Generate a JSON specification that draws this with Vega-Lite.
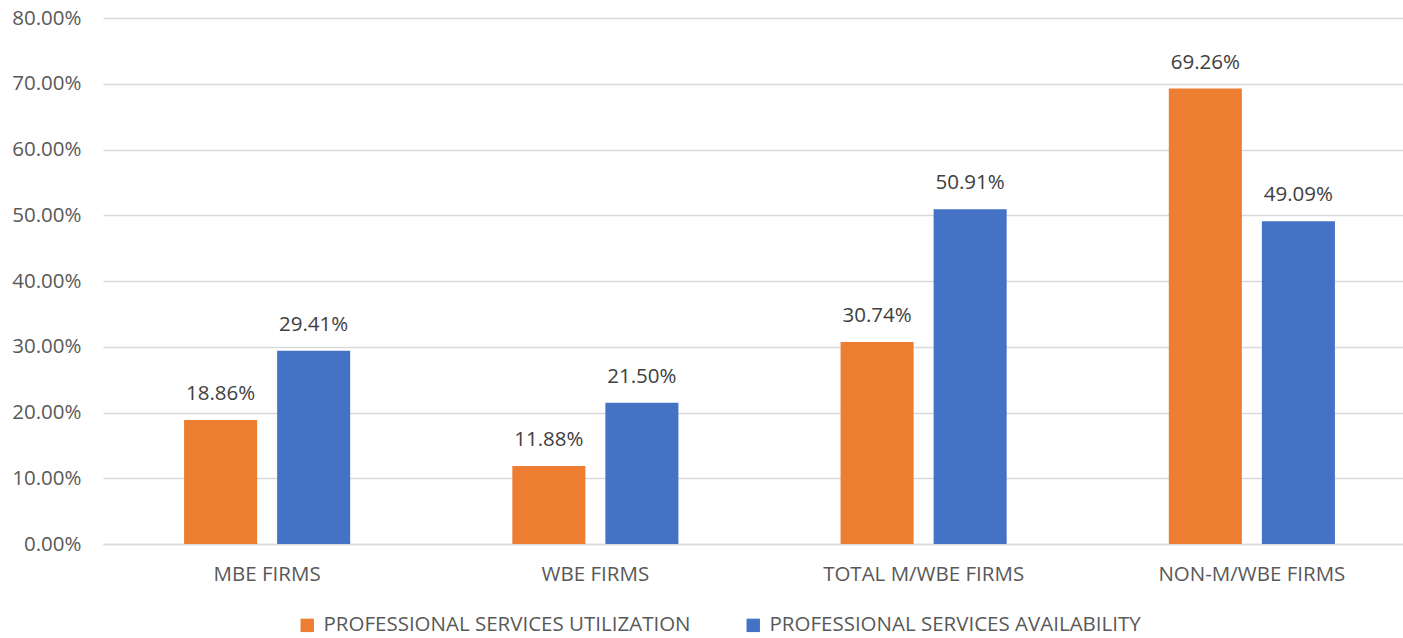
{
  "$schema": "https://vega.github.io/schema/vega-lite/v6.json",
  "width": 1313,
  "height": 526,
  "autosize": {"type": "none"},
  "padding": {"left": 103, "top": 18, "right": 0, "bottom": 94},
  "background": "white",
  "config": {
    "view": {"stroke": null},
    "font": "Open Sans"
  },
  "data": {
    "values": [
      {"group": "MBE FIRMS", "series": "PROFESSIONAL SERVICES UTILIZATION", "value": 0.1886},
      {"group": "MBE FIRMS", "series": "PROFESSIONAL SERVICES AVAILABILITY", "value": 0.2941},
      {"group": "WBE FIRMS", "series": "PROFESSIONAL SERVICES UTILIZATION", "value": 0.1188},
      {"group": "WBE FIRMS", "series": "PROFESSIONAL SERVICES AVAILABILITY", "value": 0.2150},
      {"group": "TOTAL M/WBE FIRMS", "series": "PROFESSIONAL SERVICES UTILIZATION", "value": 0.3074},
      {"group": "TOTAL M/WBE FIRMS", "series": "PROFESSIONAL SERVICES AVAILABILITY", "value": 0.5091},
      {"group": "NON-M/WBE FIRMS", "series": "PROFESSIONAL SERVICES UTILIZATION", "value": 0.6926},
      {"group": "NON-M/WBE FIRMS", "series": "PROFESSIONAL SERVICES AVAILABILITY", "value": 0.4909}
    ]
  },
  "encoding": {
    "x": {
      "field": "group", "type": "nominal", "sort": null,
      "scale": {"paddingInner": 0.494, "paddingOuter": 0.247},
      "axis": {"title": null, "labelAngle": 0, "ticks": false, "domain": true, "domainColor": "#D9D9D9", "domainWidth": 1.5,
               "labelFontSize": 20.5, "labelColor": "#595959", "labelPadding": 20, "labelFont": "Open Sans", "labelLimit": 600}
    },
    "xOffset": {
      "field": "series", "type": "nominal", "sort": ["PROFESSIONAL SERVICES UTILIZATION", "PROFESSIONAL SERVICES AVAILABILITY"],
      "scale": {"paddingInner": 0.215, "paddingOuter": 0}
    },
    "y": {
      "field": "value", "type": "quantitative",
      "scale": {"domain": [0, 0.8], "nice": false},
      "axis": {"title": null, "values": [0, 0.1, 0.2, 0.3, 0.4, 0.5, 0.6, 0.7, 0.8], "format": ".2%",
               "ticks": false, "domain": false, "grid": true, "gridColor": "#D9D9D9", "gridWidth": 1.5,
               "labelFontSize": 20.5, "labelColor": "#595959", "labelPadding": 22, "labelFont": "Open Sans"}
    }
  },
  "layer": [
    {
      "mark": {"type": "bar"},
      "encoding": {
        "color": {
          "field": "series", "type": "nominal",
          "sort": ["PROFESSIONAL SERVICES UTILIZATION", "PROFESSIONAL SERVICES AVAILABILITY"],
          "scale": {"domain": ["PROFESSIONAL SERVICES UTILIZATION", "PROFESSIONAL SERVICES AVAILABILITY"], "range": ["#ED7D31", "#4472C4"]},
          "legend": {"title": null, "orient": "none", "direction": "horizontal", "legendX": 194, "legendY": 597,
                     "symbolType": "square", "symbolSize": 180, "symbolStrokeWidth": 0, "labelFontSize": 20.5, "labelColor": "#595959",
                     "labelFont": "Open Sans", "columnPadding": 52, "labelOffset": 6, "labelLimit": 600}
        }
      }
    },
    {
      "mark": {"type": "text", "baseline": "bottom", "dy": -16, "fontSize": 20.5, "font": "Open Sans"},
      "encoding": {
        "text": {"field": "value", "type": "quantitative", "format": ".2%"},
        "color": {"value": "#404040"}
      }
    }
  ]
}
